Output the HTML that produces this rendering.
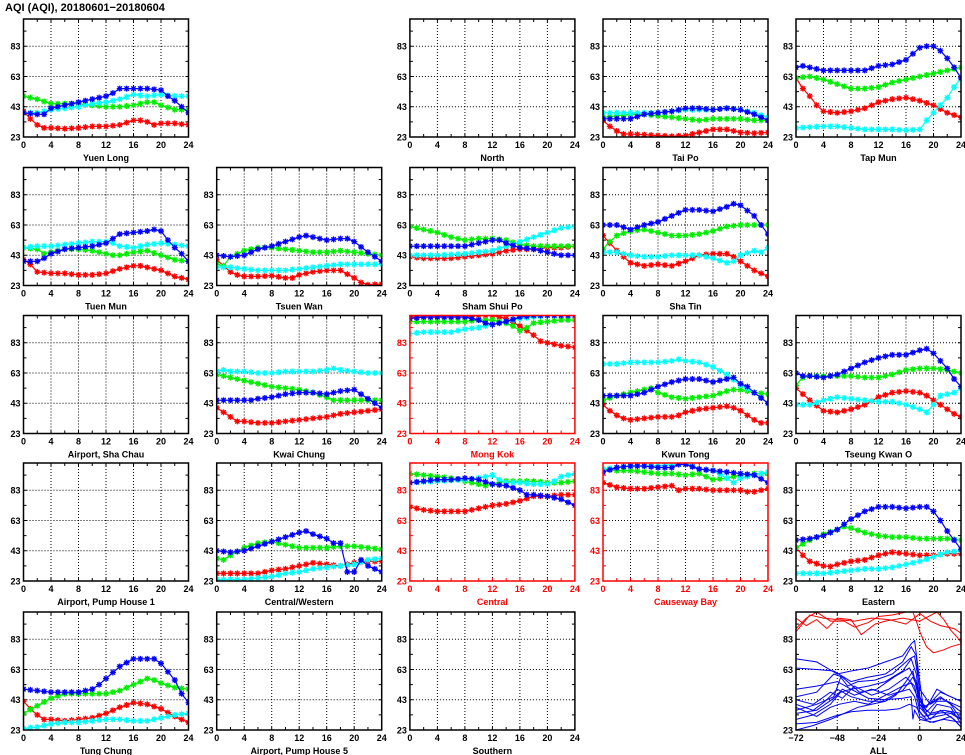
<!DOCTYPE html>
<html><head><meta charset="utf-8"><style>
html,body{margin:0;padding:0;background:#fff;}
svg{display:block;font-family:"Liberation Sans",sans-serif;}
</style></head><body>
<svg id="s" width="965" height="755" xmlns="http://www.w3.org/2000/svg">
<text x="5" y="11" font-size="11" font-weight="bold" fill="#000">AQI (AQI), 20180601−20180604</text>
</svg>
<script>
const NS="http://www.w3.org/2000/svg",S=document.getElementById('s');
function el(t,a,p){const e=document.createElementNS(NS,t);for(const k in a)e.setAttribute(k,a[k]);(p||S).appendChild(e);return e;}
const CX=[23.5,216.7,409.9,603,796],BY=[137,285.5,433.5,581,730],W=165,H=118,K=118/78;
const COL={r:"#ff0000",g:"#00ee00",c:"#00ffff",b:"#0000ff"};
function P(s){return s.split(',').map(t=>t.split(':').map(Number));}
function interp(pts,h){for(let i=0;i<pts.length-1;i++){const a=pts[i],b=pts[i+1];if(h>=a[0]&&h<=b[0]){return a[1]+(b[1]-a[1])*(h-a[0])/(b[0]-a[0]);}}return pts[pts.length-1][1];}
const D={
"Yuen Long":{r:"0:40,1:35,2:31,3:29,4:29,6:28.5,8:29,10:30,12:30,14:31,16:34,17:34,18:33,19:31,20:32,22:32,24:31",g:"0:50,2:48,4:45,6:45,8:45,10:44,12:43,14:43,16:44,18:46,19:46,20:44,22:41,24:41",c:"0:39,2:39,4:41,6:42,8:43,10:45,12:46,14:48,16:51,18:50,20:51,22:50,24:50",b:"0:39,2:38,3:38,4:42,6:44,8:46,10:48,12:50,13:52,14:55,16:55,18:55,20:54,21:50,22:47,23:43,24:39"},
"Tai Po":{r:"0:34,1:30,2:27,3:25,4:25,8:24,10:23.5,12:24,14:26,16:28,18:28,20:26,22:25.5,24:26",g:"0:36,2:37,4:38,6:38,8:37,10:36,12:35,14:34,16:35,18:35,20:35,22:34,24:34",c:"0:39,2:39,4:39,6:39,8:39,10:40,12:41,14:41,16:41,18:42,20:41,22:39,24:36",b:"0:35,2:35,4:35,6:38,8:39,10:40,12:42,14:42,16:41,18:42,20:41,22:38,24:34"},
"Tap Mun":{r:"0:62,1:55,2:50,3:44,4:40,6:39,8:40,10:42,12:46,14:48,16:49,18:47,20:44,22:39,24:36",g:"0:62,2:63,4:61,6:58,8:55,10:55,12:56,14:59,16:61,18:63,20:65,22:67,24:69",c:"0:29,4:30,6:30,8:29,10:28,12:28,14:28,16:27.5,18:28,19:34,20:39,21:44,22:49,23:56,24:62",b:"0:69,1:70,2:69,4:67,6:67,8:67,10:67,12:70,14:71,16:74,17:78,18:82,19:83,20:83,21:80,22:75,23:69,24:62"},
"Tuen Mun":{r:"0:40,1:37,2:32,4:31,6:31,8:30,10:30,12:31,14:34,16:36,17:36,18:35,20:33,22:29,24:27",g:"0:48,2:47,3:44,4:45,6:47,8:47,10:46,12:44,13:43,14:43,16:45,18:46,20:43,22:40,24:39",c:"0:48,2:49,4:49,6:50,8:51,10:52,12:52,13:51,14:49,16:48,18:50,20:51,22:50,24:49",b:"0:39,2:39,3:41,4:44,6:47,8:48,10:49,12:51,13:54,14:57,16:58,18:59,19:60,20:59,21:53,22:48,23:44,24:39"},
"Tsuen Wan":{r:"0:40,1:36,2:32,3:30,4:29,6:29,8:29.5,10:28,11:28,12:30,14:32,16:33,18:33,20:28,21:25,22:23.5,24:24",g:"0:37,1:36,2:42,4:46,6:48,8:48,10:47,12:46,14:45,16:45,18:46,20:45,22:44,24:43",c:"0:35,2:35,4:34,6:33,8:33,10:33,12:34,14:35,16:36,18:37,20:37,22:37,24:37",b:"0:43,2:42,4:43,6:47,8:49,10:52,12:55,13:56,14:55,16:53,18:54,19:54,20:52,22:45,24:39"},
"Sham Shui Po":{r:"0:42,2:41,4:41,6:41,8:42,10:43,12:44,14:46,16:47,18:47,20:48,22:48,24:49",g:"0:62,2:60,4:58,6:55,8:53,10:54,12:54,14:53,16:50,18:49,20:49,22:49,24:49",c:"0:43,4:43,8:44,10:45,12:46,14:49,15:50,16:52,18:55,20:58,22:61,24:62",b:"0:49,2:49,4:49,6:49,8:49,10:51,12:53,13:53,14:51,16:48,18:47,20:45,22:43,24:43"},
"Sha Tin":{r:"0:56,1:51,2:46,4:38,6:36,8:37,10:36,12:39,14:43,16:44,18:44,19:42,20:39,22:33,23:31,24:29",g:"0:47,1:52,2:56,4:59,6:60,8:58,10:56,12:56,14:57,16:59,18:62,20:63,22:63,24:63",c:"0:45,2:45,4:43,6:42,8:42,10:43,12:43,14:43,16:41,18:38,19:39,20:43,22:46,23:45,24:48",b:"0:63,2:63,4:60,6:63,8:65,10:69,12:73,14:73,16:72,18:75,19:77,20:76,22:69,23:63,24:57"},
"Kwai Chung":{r:"0:40,1:37,2:34,3:31,4:31,6:30,8:30,10:31,12:32,14:33,16:34,18:36,20:37,22:38,24:39",g:"0:62,2:60,4:58,6:56,8:54,10:53,12:52,14:50,16:47,17:45,18:45,20:45,22:45,24:45",c:"0:64,1:65,2:64,4:64,6:63,8:63,10:64,12:64,14:64,16:65,17:66,18:65,20:64,22:63,24:63",b:"0:45,2:45,4:45,5:45,6:46,8:47,10:49,12:50,14:50,16:49,18:51,20:52,22:46,24:40"},
"Mong Kok":{r:"0:100,4:100,8:100,10:101,12:101,14:99,16:94,17:91,18:88,19:84,20:83,22:81,24:80",g:"0:97,4:97,8:97,10:98,12:98,14:96,15:94,16:91,17:93,18:96,20:97,22:98,24:98",c:"0:89,2:90,4:90,6:90,8:92,10:93,12:95,14:97,16:99,18:100,20:101,24:101",b:"0:99,2:100,4:100,6:100,8:100,10:98,11:96,12:95,14:97,16:100,18:101,24:101"},
"Kwun Tong":{r:"0:42,1:38,2:35,3:33,4:32,6:33,8:34,10:34,11:35,12:37,14:39,16:40,18:41,19:40,20:38,22:32,23:30,24:30",g:"0:45,2:48,4:50,6:52,7:53,8:50,10:47,12:46,14:47,16:48,18:51,19:52,20:52,22:50,24:49",c:"0:69,2:69,4:70,6:70,8:70,10:71,11:72,12:71,14:70,16:67,18:62,20:55,22:50,24:43",b:"0:48,2:48,4:48,6:50,8:54,10:57,12:59,14:59,15:58,16:57,18:59,19:60,20:56,21:54,22:50,24:43"},
"Tseung Kwan O":{r:"0:53,2:45,4:38,6:37,8:39,10:42,12:47,14:50,16:51,18:50,19:48,20:45,22:39,23:36,24:34",g:"0:55,1:60,2:61,4:61,6:61,8:61,10:60,12:60,14:62,16:65,18:66,20:66,22:65,24:63",c:"0:42,2:42,4:45,6:47,8:46,10:45,12:44,14:44,16:42,18:39,19:37,20:42,21:48,22:49,23:50,24:53",b:"0:63,1:61,2:61,4:60,6:62,8:66,10:70,12:73,14:75,16:75,18:78,19:79,20:76,21:71,22:66,23:59,24:54"},
"Central/Western":{r:"0:28,2:28,4:28,6:28,8:30,10:31,12:33,14:35,16:34,18:33,20:35,22:36,24:36",g:"0:38,1:37,2:40,4:45,6:48,8:49,10:47,12:45,14:45,16:45,18:46,20:46,22:45,24:44",c:"0:24,2:24,4:24,6:25,8:26,10:28,12:29,14:31,16:32,18:33,20:34,22:37,24:38",b:"0:43,2:42,4:43,6:46,8:49,10:52,12:55,13:56,14:54,16:51,17:48,18:48,19:29,20:29,21:37,22:33,24:29"},
"Central":{r:"0:72,2:70,4:69,6:69,8:69,10:71,12:73,14:74,16:76,18:79,20:79,22:80,24:80",g:"0:94,2:93,4:92,6:91,8:89,10:87,11:86,12:87,14:89,16:89,18:89,20:88,22:88,24:89",c:"0:88,4:89,8:90,10:91,12:93,13:90,14:88,16:88,18:87,20:87,21:89,22:92,24:94",b:"0:88,2:89,4:90,6:90,8:91,10:90,12:87,14:86,16:83,17:80,18:80,20:79,22:77,24:73"},
"Causeway Bay":{r:"0:88,2:85,4:84,6:84,8:85,10:86,11:83,12:84,14:84,16:83,18:83,20:83,21:82,22:82,24:84",g:"0:97,2:96,4:96,6:95,8:94,10:94,12:93,14:94,16:90,18:91,20:93,22:94,24:94",c:"0:97,2:98,4:99,6:99,8:99,10:100,12:101,14:97,16:96,18:91,19:88,20:91,22:93,24:95",b:"0:95,2:98,4:99,6:99,8:98,10:98,11:100,12:100,14:97,16:96,18:95,20:94,22:93,24:88"},
"Eastern":{r:"0:45,1:40,2:36,4:33,5:32.5,6:34,8:36,10:37,12:40,14:42,16:41,18:40,20:40,22:41,24:41",g:"0:45,2:50,4:54,6:57,7:59,8:58,10:55,12:53,14:52,16:52,18:51,20:51,22:51,24:50",c:"0:28,2:28,4:28,6:29,8:30,10:31,12:31,14:32,16:34,18:36,20:39,22:42,24:43",b:"0:50,2:51,4:53,6:57,8:64,10:69,12:72,14:72,16:71,18:72,19:72,20:69,21:63,22:56,23:50,24:44"},
"Tung Chung":{r:"0:42,1:37,2:33,3:30,4:30,6:29,8:30,10:31,12:34,14:38,16:41,18:40,20:37,22:32,24:28",g:"0:34,2:39,4:44,6:47,8:47,10:47,12:47,14:49,16:53,18:57,19:56,20:54,22:51,24:50",c:"0:24,2:25,4:27,6:28,8:28,10:29,12:30,14:30,16:29,18:29,20:31,22:33,24:34",b:"0:50,2:49,4:48,6:48,8:48,10:50,11:53,12:57,14:65,16:70,18:70,19:70,20:67,22:56,23:47,24:41"}
};
const PANELS=[
[0,0,"Yuen Long"],[0,2,"North"],[0,3,"Tai Po"],[0,4,"Tap Mun"],
[1,0,"Tuen Mun"],[1,1,"Tsuen Wan"],[1,2,"Sham Shui Po"],[1,3,"Sha Tin"],
[2,0,"Airport, Sha Chau"],[2,1,"Kwai Chung"],[2,2,"Mong Kok",1],[2,3,"Kwun Tong"],[2,4,"Tseung Kwan O"],
[3,0,"Airport, Pump House 1"],[3,1,"Central/Western"],[3,2,"Central",1],[3,3,"Causeway Bay",1],[3,4,"Eastern"],
[4,0,"Tung Chung"],[4,1,"Airport, Pump House 5"],[4,2,"Southern"],[4,4,"ALL"]];
let cid=0;
PANELS.forEach(([r,c,name,red])=>{
 const x0=CX[c],yb=BY[r],yt=yb-H,fc=red?"#ff0000":"#000";
 const all=name==="ALL";
 const Y=v=>yb-(v-23)*K;
 const X=all?(h=>x0+(h+72)*W/96):(h=>x0+h*W/24);
 // grid
 for(const v of [43,63,83]) el('line',{x1:x0,x2:x0+W,y1:Y(v),y2:Y(v),stroke:"#000","stroke-width":1,"stroke-dasharray":"1,2"});
 const xt=all?[-72,-48,-24,0,24]:[0,4,8,12,16,20,24];
 xt.slice(1,-1).forEach(h=>el('line',{x1:X(h),x2:X(h),y1:yt,y2:yb,stroke:"#000","stroke-width":1,"stroke-dasharray":"1,2"}));
 // ticks
 const mt=all?[-72,-60,-48,-36,-24,-12,0,12,24]:[0,2,4,6,8,10,12,14,16,18,20,22,24];
 mt.forEach(h=>{el('line',{x1:X(h),x2:X(h),y1:yb,y2:yb-3,stroke:fc});el('line',{x1:X(h),x2:X(h),y1:yt,y2:yt+3,stroke:fc});});
 for(let v=33;v<=93;v+=10){el('line',{x1:x0,x2:x0+3,y1:Y(v),y2:Y(v),stroke:fc});el('line',{x1:x0+W,x2:x0+W-3,y1:Y(v),y2:Y(v),stroke:fc});}
 // labels
 [23,43,63,83].forEach(v=>{const t=el('text',{x:x0-3,y:Y(v)+3.5,"text-anchor":"end","font-size":9,"font-weight":"bold",fill:fc});t.textContent=v;});
 xt.forEach(h=>{const t=el('text',{x:X(h),y:yb+11,"text-anchor":"middle","font-size":9,"font-weight":"bold",fill:fc});t.textContent=(h<0?"−"+(-h):h);});
 const tt=el('text',{x:x0+W/2,y:yb+24,"text-anchor":"middle","font-size":9,"font-weight":"bold",fill:fc});tt.textContent=name;
 // clip
 const cp=el('clipPath',{id:"c"+cid});el('rect',{x:x0,y:yt,width:W,height:H},cp);
 const g=el('g',{"clip-path":"url(#c"+cid+")"});cid++;
 if(all){
  const R=["-72:90,-66:97,-60:101,-52:95,-44:95,-38:91,-30:94,-24:98,-16:99,-8:101,-4:101,-2:95,0:88,4:78,8:74,14:76,18:78,24:80","-72:97,-66:92,-60:96,-54:90,-48:97,-40:96,-34:86,-26:93,-20:95,-10:97,0:95,10:101,14:96,18:89,22:84,24:81","-72:88,-64:99,-56:97,-48:96,-38:95,-28:97,-18:96,-8:93,-2:98,0:100,6:95,12:92,20:90,24:87"];
  const B=["-72:70,-60:68,-48:60,-40:62,-30:64,-20:68,-10:72,-5:80,-3:82,0:55,2:38,8:42,12:45,18:40,24:30","-72:64,-60:63,-50:62,-40:55,-30:58,-20:60,-10:68,-5:78,-2:72,0:45,4:35,10:42,16:42,24:35","-72:50,-60:52,-48:55,-40:50,-30:52,-20:55,-10:62,-5:70,-2:60,0:40,5:32,10:40,18:38,24:27","-72:45,-60:48,-50:60,-45:58,-35:48,-25:50,-15:58,-6:64,-2:55,0:38,6:30,12:36,20:30,24:25","-72:43,-62:40,-52:48,-45:44,-38:52,-28:46,-18:50,-8:58,-3:52,0:35,4:30,10:32,18:34,24:30","-72:40,-62:36,-55:42,-48:50,-40:45,-30:42,-22:42,-12:48,-6:50,-3:45,0:32,6:28,14:30,24:28","-72:38,-60:32,-52:38,-47:40,-38:42,-30:40,-20:46,-10:52,-5:54,0:42,4:38,10:50,16:46,24:42","-72:34,-60:36,-50:44,-45:50,-38:46,-28:50,-18:46,-10:49,-4:58,-1:50,2:36,12:48,20:44,24:42","-72:30,-62:33,-52:40,-46:48,-40:50,-30:44,-20:43,-10:44,-5:45,-4:30,-3:36,0:30,8:28,18:32,24:25","-72:27,-60:28,-50:32,-40:35,-30:36,-20:36,-12:37,-6:40,-2:38,2:32,10:34,18:35,24:30","-72:23,-62:26,-52:30,-44:34,-36:38,-28:40,-20:42,-14:46,-8:55,-4:62,0:40,6:34,14:36,24:34","-72:36,-60:40,-50:45,-46:58,-42:52,-36:55,-26:56,-16:60,-6:70,-3:72,0:50,6:40,12:44,24:38"];
  B.forEach(s=>el('polyline',{points:P(s).map(p=>X(p[0]).toFixed(1)+","+Y(p[1]).toFixed(1)).join(" "),fill:"none",stroke:COL.b,"stroke-width":1},g));
  R.forEach(s=>el('polyline',{points:P(s).map(p=>X(p[0]).toFixed(1)+","+Y(p[1]).toFixed(1)).join(" "),fill:"none",stroke:COL.r,"stroke-width":1},g));
 } else if(D[name]){
  ["r","g","c","b"].forEach(k=>{
   const pts=P(D[name][k]),col=COL[k];let pp=[];
   for(let h=0;h<=24;h++){pp.push([X(h),Y(interp(pts,h))]);}
   el('polyline',{points:pp.map(p=>p[0].toFixed(1)+","+p[1].toFixed(1)).join(" "),fill:"none",stroke:col,"stroke-width":1.2},g);
   let d="";pp.forEach(([x,y])=>{d+=`M${x-3},${y}h6M${x},${y-3}v6M${x-2.2},${y-2.2}l4.4,4.4M${x-2.2},${y+2.2}l4.4,-4.4`;});
   el('path',{d:d,stroke:col,"stroke-width":1.3,fill:"none"},g);
  });
 }
 el('rect',{x:x0,y:yt,width:W,height:H,fill:"none",stroke:fc,"stroke-width":1.5});
});
</script>
</body></html>
